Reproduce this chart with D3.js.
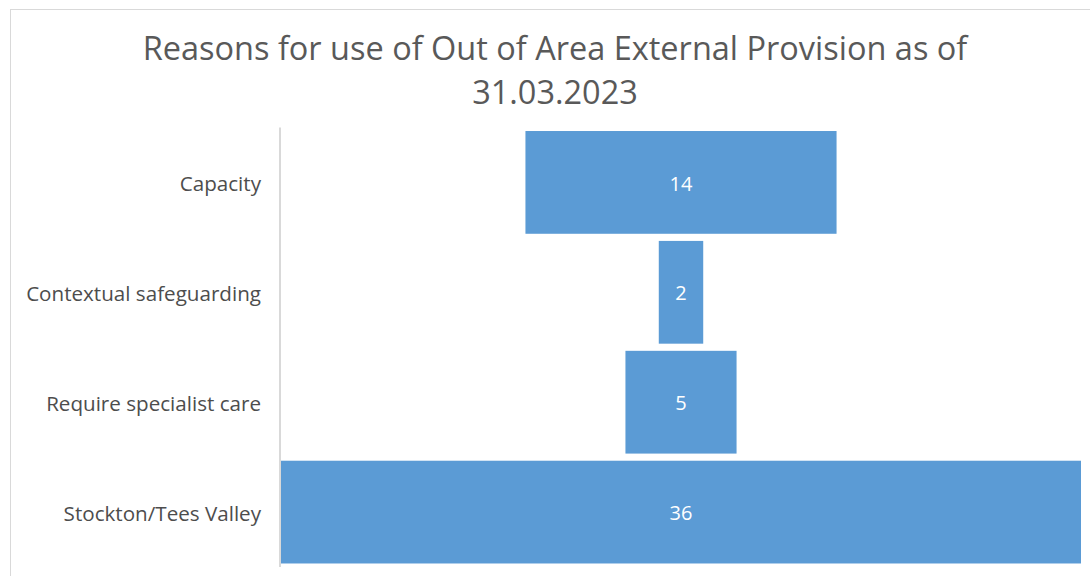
<!DOCTYPE html>
<html><head><meta charset="utf-8">
<script src="https://cdn.jsdelivr.net/npm/d3@7"></script>
<style>body{margin:0;background:#fff}svg{display:block}</style>
</head><body>
<svg id="c" width="1090" height="576"></svg>
<script>
const categories = ["Capacity","Contextual safeguarding","Require specialist care","Stockton/Tees Valley"];
const values = [14, 2, 5, 36];
const titleLines = ["Reasons for use of Out of Area External Provision as of", "31.03.2023"];

const svg = d3.select("#c");
const font = "Open Sans, 'Liberation Sans', sans-serif";

// chart border
svg.append("rect").attr("x",10.5).attr("y",9.5).attr("width",1100).attr("height",600)
  .attr("fill","none").attr("stroke","#d9d9d9").attr("stroke-width",1);

const plotLeft = 281, plotRight = 1081, center = (plotLeft+plotRight)/2;
const x = d3.scaleLinear().domain([0, d3.max(values)]).range([0, plotRight-plotLeft]);
const y = d3.scaleBand().domain(categories).range([127.5, 567]).paddingInner(0.065).paddingOuter(0.032);

// axis line
svg.append("line").attr("x1",280).attr("x2",280).attr("y1",127.5).attr("y2",567)
  .attr("stroke","#d9d9d9").attr("stroke-width",2);

const data = categories.map((c,i)=>({c, v: values[i]}));
svg.selectAll("rect.bar").data(data).join("rect").attr("class","bar")
  .attr("x", d=>center - x(d.v)/2).attr("width", d=>x(d.v))
  .attr("y", d=>y(d.c)).attr("height", y.bandwidth())
  .attr("fill","#5b9bd5");

svg.selectAll("text.val").data(data).join("text").attr("class","val")
  .attr("x", center).attr("y", d=>y(d.c)+y.bandwidth()/2+1).attr("dy","0.36em")
  .attr("text-anchor","middle").attr("fill","#fff").attr("font-family",font).attr("font-size",20)
  .text(d=>d.v);

const labels = svg.selectAll("text.cat").data(data).join("text").attr("class","cat")
  .attr("x", 261).attr("y", d=>y(d.c)+y.bandwidth()/2+1).attr("dy","0.36em")
  .attr("text-anchor","end").attr("fill","#4d4d4d").attr("font-family",font).attr("font-size",18)
  .text(d=>d.c);
{
  const t = labels.filter(d=>d.c==="Contextual safeguarding");
  const w = t.node().getComputedTextLength();
  labels.attr("font-size", 18*235/w);
}

const t1 = svg.append("text").attr("x",555).attr("y",60).attr("text-anchor","middle")
  .attr("fill","#595959").attr("font-family",font).attr("font-size",30).text(titleLines[0]);
const w1 = t1.node().getComputedTextLength();
const tfs = 30*825/w1;
t1.attr("font-size", tfs);
svg.append("text").attr("x",555).attr("y",104).attr("text-anchor","middle")
  .attr("fill","#595959").attr("font-family",font).attr("font-size",tfs).text(titleLines[1]);
</script>
</body></html>
